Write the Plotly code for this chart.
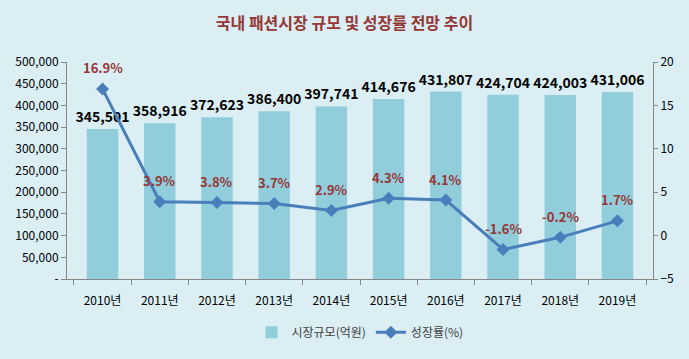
import plotly.graph_objects as go

years = ["2010년", "2011년", "2012년", "2013년", "2014년", "2015년", "2016년", "2017년", "2018년", "2019년"]
market_size = [345501, 358916, 372623, 386400, 397741, 414676, 431807, 424704, 424003, 431006]
growth_rate = [16.9, 3.9, 3.8, 3.7, 2.9, 4.3, 4.1, -1.6, -0.2, 1.7]
left_ticks = [0, 50000, 100000, 150000, 200000, 250000, 300000, 350000, 400000, 450000, 500000]
left_tick_text = ["-"] + [f"{v:,}" for v in left_ticks[1:]]
right_ticks = [-5, 0, 5, 10, 15, 20]

FONT = "Noto Sans CJK KR"
BG = "#DAEEF3"
BAR = "#92CDDC"
LINE = "#4A7EBB"
RED = "#953735"

fig = go.Figure()
fig.add_trace(go.Bar(
    x=years, y=market_size, name="시장규모(억원)",
    marker=dict(color=BAR, line=dict(width=0)),
    width=0.55,
    text=[f"<b>{v:,}</b>" for v in market_size], textposition="outside",
    constraintext="none",
    textfont=dict(family=FONT, size=14, color="#000000"),
    cliponaxis=False,
))
fig.add_trace(go.Scatter(
    x=years, y=growth_rate, name="성장률(%)", yaxis="y2",
    mode="lines+markers",
    line=dict(color=LINE, width=3),
    marker=dict(symbol="diamond", size=10, color=LINE),
))
for yr, g in zip(years, growth_rate):
    fig.add_annotation(x=yr, y=g, yref="y2", text=f"<b>{g}%</b>", showarrow=False,
                       yshift=21, font=dict(family=FONT, size=13, color=RED))

fig.update_layout(
    width=689, height=359,
    paper_bgcolor=BG, plot_bgcolor=BG,
    margin=dict(l=67, r=36, t=62, b=61),
    title=dict(text="<b>국내 패션시장 규모 및 성장률 전망 추이</b>", x=0.5, xanchor="center",
               y=0.935, yanchor="middle",
               font=dict(family=FONT, size=16, color=RED)),
    font=dict(family=FONT, size=12, color="#262626"),
    showlegend=True,
    legend=dict(orientation="h", x=0.5, xanchor="center", y=-0.245, yanchor="middle",
                font=dict(family=FONT, size=12, color="#404040"), bgcolor="rgba(0,0,0,0)"),
    xaxis=dict(type="category", showline=True, linecolor="#868686", linewidth=1,
               ticks="outside", tickson="boundaries", ticklen=5, tickcolor="#868686",
               ticklabelstandoff=11, automargin=False,
               showgrid=False, tickfont=dict(family=FONT, size=12, color="#000000")),
    yaxis=dict(range=[0, 500000], tickvals=left_ticks, ticktext=left_tick_text,
               showline=True, linecolor="#868686", ticks="outside", ticklen=5,
               tickcolor="#868686", showgrid=False, zeroline=False, automargin=False,
               tickfont=dict(family=FONT, size=12, color="#000000")),
    yaxis2=dict(range=[-5, 20], tickvals=right_ticks, overlaying="y", side="right",
                showline=True, linecolor="#868686", ticks="outside", ticklen=4,
                tickcolor="#868686", showgrid=False, zeroline=False, automargin=False,
                tickfont=dict(family=FONT, size=12, color="#000000")),
)

post = (
    "document.documentElement.style.margin='0';"
    "document.body.style.margin='0';"
    "document.body.style.background='%s';"
    "document.documentElement.style.overflow='hidden';"
    "document.body.style.overflow='hidden';"
    "var d=document.querySelector('.plotly-graph-div');"
    "d.style.position='absolute';d.style.left='0px';d.style.top='0px';" % BG
)
fig.write_html("out.html", config={"displayModeBar": False}, post_script=post)
